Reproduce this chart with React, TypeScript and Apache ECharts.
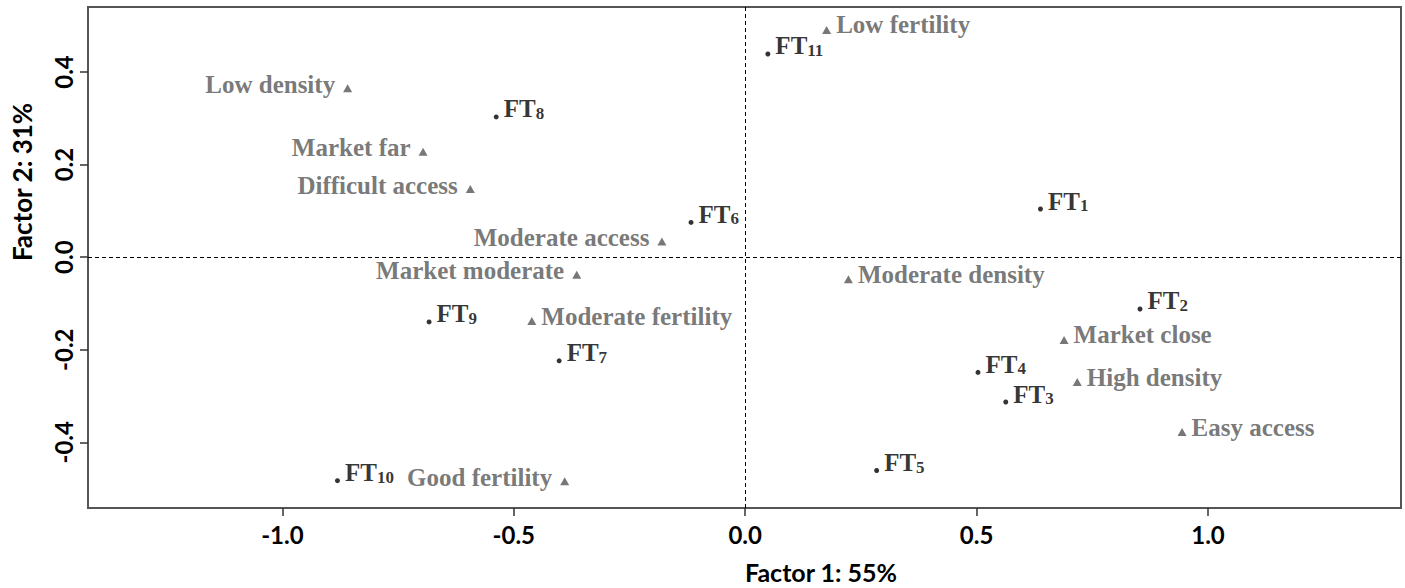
import React, { useEffect, useRef } from "react";
import * as echarts from "echarts";

// Sites (FT1..FT11): coordinates on Factor 1 / Factor 2
const siteNames = ["FT1", "FT2", "FT3", "FT4", "FT5", "FT6", "FT7", "FT8", "FT9", "FT10", "FT11"];
const siteX = [0.638, 0.853, 0.563, 0.503, 0.284, -0.117, -0.402, -0.538, -0.683, -0.881, 0.049];
const siteY = [0.104, -0.112, -0.313, -0.249, -0.461, 0.075, -0.224, 0.303, -0.14, -0.483, 0.439];

// Variable categories
const categoryNames = [
  "Low density", "Market far", "Difficult access", "Moderate access", "Market moderate",
  "Moderate fertility", "Good fertility", "Low fertility", "Moderate density",
  "Market close", "High density", "Easy access",
];
const categoryX = [-0.859, -0.696, -0.594, -0.18, -0.364, -0.461, -0.39, 0.176, 0.223, 0.689, 0.7175, 0.944];
const categoryY = [0.365, 0.228, 0.147, 0.034, -0.038, -0.138, -0.484, 0.491, -0.048, -0.179, -0.27, -0.378];

// Categories whose label sits to the left of the marker
const leftLabelled = ["Low density", "Market far", "Difficult access", "Moderate access", "Market moderate", "Good fertility"];

const xTicks = [-1, -0.5, 0, 0.5, 1];
const yTicks = [-0.4, -0.2, 0, 0.2, 0.4];
const xTitle = "Factor 1: 55%";
const yTitle = "Factor 2: 31%";

const SERIF = "'Liberation Serif', 'Times New Roman', serif";
const SANS = "Lato, 'Open Sans', sans-serif";

export default function App() {
  const ref = useRef<HTMLDivElement>(null);
  useEffect(() => {
    if (!ref.current) return;
    const chart = echarts.init(ref.current, undefined, { renderer: "svg" });

    const siteData = siteNames.map((n, i) => ({ name: n, value: [siteX[i], siteY[i]] }));
    const catData = categoryNames.map((n, i) => {
      const left = leftLabelled.includes(n);
      return {
        name: n,
        value: [categoryX[i], categoryY[i]],
        label: left
          ? { position: "left", distance: 8, offset: [0, -4] }
          : { position: "right", distance: 5, offset: [0, -5] },
      };
    });

    chart.setOption({
      animation: false,
      backgroundColor: "#fff",
      grid: {
        left: 88, right: 4, top: 7, bottom: 80,
        show: true, borderColor: "#555", borderWidth: 2, backgroundColor: "transparent",
        outerBoundsMode: "none",
      },
      xAxis: {
        type: "value", min: -1.42, max: 1.417,
        splitLine: { show: false },
        axisLine: { show: false, onZero: false },
        axisTick: { show: true, customValues: xTicks, length: 8, lineStyle: { color: "#333", width: 1.5 } },
        axisLabel: {
          customValues: xTicks, formatter: (v: number) => v.toFixed(1),
          fontFamily: SANS, fontWeight: "bold", fontSize: 24, color: "#000", margin: 14,
        },
      },
      yAxis: {
        type: "value", min: -0.542, max: 0.5405,
        splitLine: { show: false },
        axisLine: { show: false, onZero: false },
        axisTick: { show: true, customValues: yTicks, length: 8, lineStyle: { color: "#333", width: 1.5 } },
        axisLabel: {
          customValues: yTicks, formatter: (v: number) => v.toFixed(1), rotate: 90,
          fontFamily: SANS, fontWeight: "bold", fontSize: 24, color: "#000", margin: 13,
        },
      },
      graphic: [
        {
          type: "text", x: 821, y: 572,
          style: { text: xTitle, fontFamily: SANS, fontWeight: "bold", fontSize: 25, fill: "#000", align: "center", verticalAlign: "middle" },
        },
        {
          type: "text", x: 22, y: 182, rotation: Math.PI / 2,
          style: { text: yTitle, fontFamily: SANS, fontWeight: "bold", fontSize: 26, fill: "#000", align: "center", verticalAlign: "middle" },
        },
      ],
      series: [
        {
          type: "scatter",
          name: "categories",
          data: catData,
          symbol: "triangle",
          symbolSize: [9, 8],
          itemStyle: { color: "#555" },
          label: {
            show: true,
            formatter: "{b}",
            fontFamily: SERIF, fontWeight: "bold", fontSize: 25, color: "#555",
          },
          markLine: {
            silent: true,
            symbol: ["none", "none"],
            label: { show: false },
            lineStyle: { type: [4, 3], color: "#000", width: 1 },
            data: [{ xAxis: 0 }, { yAxis: 0 }],
          },
          z: 3,
        },
        {
          type: "scatter",
          name: "sites",
          data: siteData,
          symbol: "circle",
          symbolSize: 5,
          itemStyle: { color: "#000" },
          label: {
            show: true,
            position: "right",
            distance: 5,
            offset: [0, -8],
            formatter: (p: any) => `{m|FT}{s|${String(p.name).slice(2)}}`,
            rich: {
              m: { fontFamily: SERIF, fontWeight: "bold", fontSize: 25, lineHeight: 26, color: "#000" },
              s: { fontFamily: SERIF, fontWeight: "bold", fontSize: 17, lineHeight: 16, color: "#000", verticalAlign: "bottom" },
            },
          },
          z: 4,
        },
      ],
    });
    return () => chart.dispose();
  }, []);
  return <div ref={ref} style={{ position: "absolute", left: 0, top: 0, width: 1405, height: 588 }} />;
}
